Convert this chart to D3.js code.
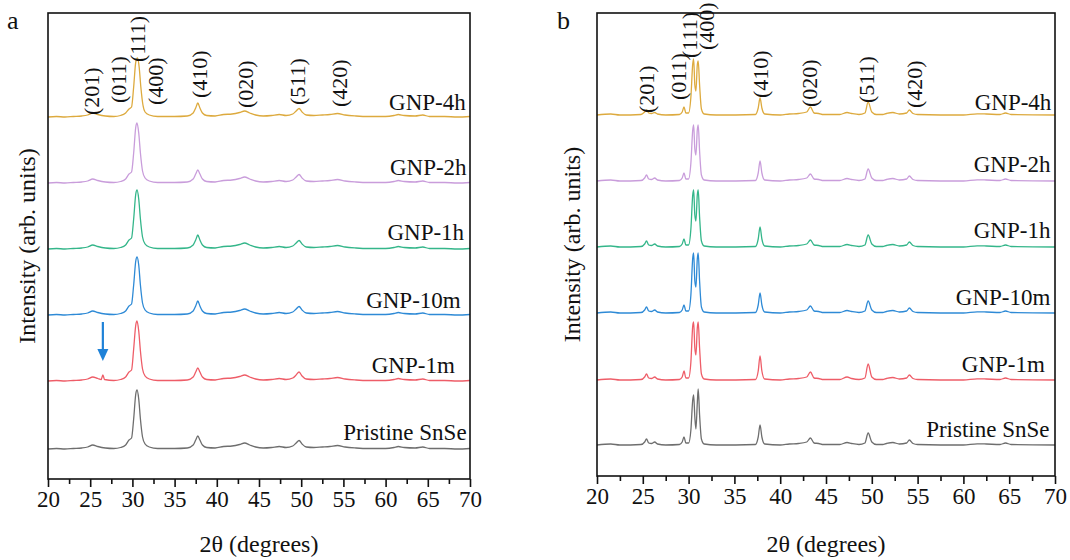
<!DOCTYPE html>
<html><head><meta charset="utf-8">
<script src="https://cdn.jsdelivr.net/npm/d3@7"></script>
<style>
html,body{margin:0;padding:0;background:#fff;}
svg text{font-family:"Liberation Serif","Times New Roman",serif;fill:#111;}
</style></head>
<body><svg id="chart" width="1070" height="560"></svg>
<script>
// ---------- DATA ----------
const xTicks = [20,25,30,35,40,45,50,55,60,65,70];
const seriesNames = ["Pristine SnSe","GNP-1m","GNP-10m","GNP-1h","GNP-2h","GNP-4h"];
const seriesColors = ["#6e6e6e","#ee5d68","#2e8ad6","#34b68a","#c99ddb","#ddaa3e"];
const millerNames = ["(201)","(011)","(111)","(400)","(410)","(020)","(511)","(420)"];

// vertical offsets (arb. units) of each pattern
const offsetsA = [30, 98, 164, 230, 296, 362];
const offsetsB = [31, 96, 163, 229, 295, 361];

// panel a patterns [2theta, intensity above own baseline]
const aPristine = [[20,0],[21,0.5],[22,0],[23,0.5],[24,1],[24.7,2],[25.3,4],[25.9,2.5],[26.8,1],[27.8,0.5],[28.6,1.5],[29.2,4],[29.6,9],[29.9,11],[30.15,30],[30.4,55],[30.55,59],[30.75,50],[30.95,30],[31.2,12],[31.5,5],[32,2],[33,0.5],[35,0.5],[36.5,1],[37.2,4],[37.5,9],[37.75,13],[38.0,9],[38.3,4],[38.8,1.5],[39.8,1],[40.8,2.5],[41.8,3],[42.7,4.5],[43.3,6],[43.9,4],[44.6,2],[45.5,1],[46.5,1.5],[47.4,2.5],[48.2,1.5],[49.0,3],[49.4,6],[49.75,8.5],[50.1,5],[50.6,2],[51.5,1.5],[52.5,2],[53.4,2.5],[54.3,3.5],[55.2,2],[56.5,1],[58,0.5],[60,0.5],[61,1.5],[61.5,2.5],[62.2,1.5],[63.5,1],[64.4,2],[65.2,0.5],[67,0.5],[68.5,0],[70,0.5]];
const a1m = [[20,0],[21,0.5],[22,0],[23,0.5],[24,1],[24.7,2],[25.3,4],[25.9,2.5],[26.3,1.5],[26.5,6],[26.7,1.5],[27.8,0.5],[28.6,1.5],[29.2,4],[29.6,9],[29.9,11],[30.15,32],[30.4,56],[30.55,60],[30.75,50],[30.95,30],[31.2,12],[31.5,5],[32,2],[33,0.5],[35,0.5],[36.5,1],[37.2,4],[37.5,9],[37.75,13],[38.0,9],[38.3,4],[38.8,1.5],[39.8,1],[40.8,2.5],[41.8,3],[42.7,4.5],[43.3,6],[43.9,4],[44.6,2],[45.5,1],[46.5,1.5],[47.4,2.5],[48.2,1.5],[49.0,3],[49.4,6],[49.75,9],[50.1,5],[50.6,2],[51.5,1.5],[52.5,2],[53.4,2.5],[54.3,3.5],[55.2,2],[56.5,1],[58,0.5],[60,0.5],[61,1.5],[61.5,2.5],[62.2,1.5],[63.5,1],[64.4,2],[65.2,0.5],[67,0.5],[68.5,0],[70,0.5]];
const a10m = [[20,0],[21,0.5],[22,0],[23,0.5],[24,1],[24.7,2],[25.3,4],[25.9,2.5],[26.8,1],[27.8,0.5],[28.6,1.5],[29.2,4],[29.6,9],[29.9,11],[30.15,30],[30.4,54],[30.55,58],[30.75,50],[30.95,30],[31.2,12],[31.5,5],[32,2],[33,0.5],[35,0.5],[36.5,1],[37.2,4],[37.5,9],[37.75,14],[38.0,9],[38.3,4],[38.8,1.5],[39.8,1],[40.8,2.5],[41.8,3],[42.7,4.5],[43.3,6],[43.9,4],[44.6,2],[45.5,1],[46.5,1.5],[47.4,2.5],[48.2,1.5],[49.0,3],[49.4,6],[49.75,8.5],[50.1,5],[50.6,2],[51.5,1.5],[52.5,2],[53.4,2.5],[54.3,3.5],[55.2,2],[56.5,1],[58,0.5],[60,0.5],[61,1.5],[61.5,2.5],[62.2,1.5],[63.5,1],[64.4,2],[65.2,0.5],[67,0.5],[68.5,0],[70,0.5]];
const a1h = [[20,0],[21,0.5],[22,0],[23,0.5],[24,1],[24.7,2],[25.3,4],[25.9,2.5],[26.8,1],[27.8,0.5],[28.6,1.5],[29.2,4],[29.6,9],[29.9,11],[30.15,30],[30.4,55],[30.55,59],[30.75,50],[30.95,30],[31.2,12],[31.5,5],[32,2],[33,0.5],[35,0.5],[36.5,1],[37.2,4],[37.5,9],[37.75,14],[38.0,9],[38.3,4],[38.8,1.5],[39.8,1],[40.8,2.5],[41.8,3],[42.7,4.5],[43.3,6],[43.9,4],[44.6,2],[45.5,1],[46.5,1.5],[47.4,2.5],[48.2,1.5],[49.0,3],[49.4,6],[49.75,8.5],[50.1,5],[50.6,2],[51.5,1.5],[52.5,2],[53.4,2.5],[54.3,3.5],[55.2,2],[56.5,1],[58,0.5],[60,0.5],[61,1.5],[61.5,2.5],[62.2,1.5],[63.5,1],[64.4,2],[65.2,0.5],[67,0.5],[68.5,0],[70,0.5]];
const a2h = [[20,0],[21,0.5],[22,0],[23,0.5],[24,1],[24.7,2],[25.3,4],[25.9,2.5],[26.8,1],[27.8,0.5],[28.6,1.5],[29.2,4],[29.6,9],[29.9,11],[30.15,30],[30.4,56],[30.55,60],[30.75,50],[30.95,30],[31.2,12],[31.5,5],[32,2],[33,0.5],[35,0.5],[36.5,1],[37.2,4],[37.5,9],[37.75,13],[38.0,9],[38.3,4],[38.8,1.5],[39.8,1],[40.8,2.5],[41.8,3],[42.7,4.5],[43.3,6],[43.9,4],[44.6,2],[45.5,1],[46.5,1.5],[47.4,2.5],[48.2,1.5],[49.0,3],[49.4,6],[49.75,8.5],[50.1,5],[50.6,2],[51.5,1.5],[52.5,2],[53.4,2.5],[54.3,3.5],[55.2,2],[56.5,1],[58,0.5],[60,0.5],[61,1.5],[61.5,2.5],[62.2,1.5],[63.5,1],[64.4,2],[65.2,0.5],[67,0.5],[68.5,0],[70,0.5]];
const a4h = [[20,0],[21,0.5],[22,0],[23,0.5],[24,1],[24.7,2],[25.3,4],[25.9,2.5],[26.8,1],[27.8,0.5],[28.6,1.5],[29.2,4],[29.6,8],[29.9,10],[30.15,30],[30.4,55],[30.6,59],[30.8,50],[31.0,30],[31.25,12],[31.5,5],[32,2],[33,0.5],[35,0.5],[36.5,1],[37.2,4],[37.5,9],[37.75,14],[38.0,9],[38.3,4],[38.8,1.5],[39.8,1],[40.8,2.5],[41.8,3],[42.7,4.5],[43.3,6],[43.9,4],[44.6,2],[45.5,1],[46.5,1.5],[47.4,2.5],[48.2,1.5],[49.0,3],[49.4,6],[49.75,8.5],[50.1,5],[50.6,2],[51.5,1.5],[52.5,2],[53.4,2.5],[54.3,3.5],[55.2,2],[56.5,1],[58,0.5],[60,0.5],[61,1.5],[61.5,2.5],[62.2,1.5],[63.5,1],[64.4,2],[65.2,0.5],[67,0.5],[68.5,0],[70,0.5]];

// panel b patterns
const bPristine = [[20,0],[21.5,1],[22.5,0],[24.8,0.5],[25.2,3],[25.4,6],[25.65,2],[25.95,1.5],[26.3,3],[26.6,1],[27.5,0],[29.0,0.5],[29.3,3],[29.5,8],[29.7,2],[30.0,2],[30.25,15],[30.45,45],[30.55,50],[30.68,28],[30.8,16],[30.95,42],[31.05,56],[31.2,30],[31.4,6],[31.7,1],[33,0],[37.3,0.5],[37.6,8],[37.8,20],[38.0,8],[38.3,1],[40,0],[41,1],[42,1.5],[42.9,3],[43.3,7],[43.7,2],[44.2,1.5],[44.6,0.5],[46.5,0.5],[47.3,2.5],[47.8,1.5],[48.6,0.5],[49.25,2],[49.6,12],[50.0,3],[50.5,0.5],[51.2,0.5],[51.6,1.5],[52.3,2.5],[53,1],[53.8,2],[54.1,5],[54.5,1.5],[55,0.5],[60,0],[61.5,1.2],[62.5,1],[64,0.5],[64.6,2],[65.2,0.5],[70,0]];
const b1m = [[20,0],[21.5,1],[22.5,0],[24.8,0.5],[25.2,3],[25.4,6],[25.65,2],[25.95,1.5],[26.3,3],[26.6,1],[27.5,0],[29.0,0.5],[29.3,3],[29.5,9],[29.7,2],[30.0,2],[30.25,18],[30.45,54],[30.55,58],[30.68,32],[30.8,25],[30.95,52],[31.05,58],[31.2,32],[31.4,6],[31.7,1],[33,0],[37.3,0.5],[37.6,9],[37.8,24],[38.0,9],[38.3,1],[40,0],[41,1],[42,1.5],[42.9,3],[43.3,8],[43.7,2],[44.2,1.5],[44.6,0.5],[46.5,0.5],[47.3,3],[47.8,1.5],[48.6,0.5],[49.25,2],[49.6,16],[50.0,3],[50.5,0.5],[51.2,0.5],[51.6,1.5],[52.3,2.5],[53,1],[53.8,2],[54.1,5],[54.5,1.5],[55,0.5],[60,0],[61.5,1.2],[62.5,1],[64,0.5],[64.6,2],[65.2,0.5],[70,0]];
const b10m = [[20,0],[21.5,1],[22.5,0],[24.8,0.5],[25.2,3],[25.4,6],[25.65,2],[25.95,1.5],[26.3,3],[26.6,1],[27.5,0],[29.0,0.5],[29.3,3],[29.5,8],[29.7,2],[30.0,2],[30.25,18],[30.45,55],[30.55,60],[30.68,32],[30.8,26],[30.95,54],[31.05,60],[31.2,32],[31.4,6],[31.7,1],[33,0],[37.3,0.5],[37.6,8],[37.8,20],[38.0,8],[38.3,1],[40,0],[41,1],[42,1.5],[42.9,3],[43.3,7],[43.7,2],[44.2,1.5],[44.6,0.5],[46.5,0.5],[47.3,2.5],[47.8,1.5],[48.6,0.5],[49.25,2],[49.6,12],[50.0,3],[50.5,0.5],[51.2,0.5],[51.6,1.5],[52.3,2.5],[53,1],[53.8,2],[54.1,5],[54.5,1.5],[55,0.5],[60,0],[61.5,1.2],[62.5,1],[64,0.5],[64.6,2],[65.2,0.5],[70,0]];
const b1h = [[20,0],[21.5,1],[22.5,0],[24.8,0.5],[25.2,3],[25.4,6],[25.65,2],[25.95,1.5],[26.3,3],[26.6,1],[27.5,0],[29.0,0.5],[29.3,3],[29.5,8],[29.7,2],[30.0,2],[30.25,18],[30.45,52],[30.55,57],[30.68,32],[30.8,26],[30.95,52],[31.05,57],[31.2,30],[31.4,6],[31.7,1],[33,0],[37.3,0.5],[37.6,8],[37.8,20],[38.0,8],[38.3,1],[40,0],[41,1],[42,1.5],[42.9,3],[43.3,7],[43.7,2],[44.2,1.5],[44.6,0.5],[46.5,0.5],[47.3,2.5],[47.8,1.5],[48.6,0.5],[49.25,2],[49.6,12],[50.0,3],[50.5,0.5],[51.2,0.5],[51.6,1.5],[52.3,2.5],[53,1],[53.8,2],[54.1,5],[54.5,1.5],[55,0.5],[60,0],[61.5,1.2],[62.5,1],[64,0.5],[64.6,2],[65.2,0.5],[70,0]];
const b2h = [[20,0],[21.5,1],[22.5,0],[24.8,0.5],[25.2,3],[25.4,6],[25.65,2],[25.95,1.5],[26.3,3],[26.6,1],[27.5,0],[29.0,0.5],[29.3,3],[29.5,8],[29.7,2],[30.0,2],[30.25,18],[30.45,51],[30.55,56],[30.68,32],[30.8,26],[30.95,51],[31.05,56],[31.2,30],[31.4,6],[31.7,1],[33,0],[37.3,0.5],[37.6,8],[37.8,20],[38.0,8],[38.3,1],[40,0],[41,1],[42,1.5],[42.9,3],[43.3,7],[43.7,2],[44.2,1.5],[44.6,0.5],[46.5,0.5],[47.3,2.5],[47.8,1.5],[48.6,0.5],[49.25,2],[49.6,12],[50.0,3],[50.5,0.5],[51.2,0.5],[51.6,1.5],[52.3,2.5],[53,1],[53.8,2],[54.1,5],[54.5,1.5],[55,0.5],[60,0],[61.5,1.2],[62.5,1],[64,0.5],[64.6,2],[65.2,0.5],[70,0]];
const b4h = [[20,0],[21.5,1],[22.5,0],[24.8,0.5],[25.2,3],[25.4,5],[25.65,2],[25.95,1.5],[26.3,2.5],[26.6,1],[27.5,0],[29.0,0.5],[29.3,3],[29.5,8],[29.7,2],[30.0,2],[30.25,18],[30.45,51],[30.55,56],[30.68,30],[30.8,24],[30.95,50],[31.05,54],[31.2,30],[31.4,6],[31.7,1],[33,0],[37.3,0.5],[37.6,7],[37.8,17],[38.0,7],[38.3,1],[40,0],[41,1],[42,1.5],[42.9,3],[43.3,8],[43.7,2],[44.2,1.5],[44.6,0.5],[46.5,0.5],[47.3,2.5],[47.8,1.5],[48.6,0.5],[49.25,2],[49.6,13],[50.0,3],[50.5,0.5],[51.2,0.5],[51.6,1.5],[52.3,2.5],[53,1],[53.8,2],[54.1,5],[54.5,1.5],[55,0.5],[60,0],[61.5,1.2],[62.5,1],[64,0.5],[64.6,2],[65.2,0.5],[70,0]];

// label anchors: [2theta of text end, intensity of text baseline]
const seriesLabelsA = [[69.6,39],[68.2,106],[68.9,171],[69.3,239],[69.6,304],[69.5,369]];
const seriesLabelsB = [[69.4,39],[68.9,104],[69.5,171],[69.5,238],[69.5,304],[69.6,366]];
// Miller labels: [2theta, intensity of label bottom]
const millerA = [[25.1,364],[28.3,376],[30.6,417],[32.7,374],[37.9,381],[43.4,371],[49.5,374],[54.5,372]];
const millerB = [[25.4,363],[28.85,376],[30.1,418],[31.9,426],[37.8,378],[43.2,369],[49.4,373],[54.6,368]];
// arrow in panel a: [2theta, top intensity, tip intensity]
const arrowA = [26.5, 157, 118];

// ---------- DRAW ----------
const svg = d3.select("#chart");

function panel(cfg){
  const g = svg.append("g");
  const x = d3.scaleLinear().domain([20,70]).range([cfg.left, cfg.right]);
  const y = d3.scaleLinear().domain([0, cfg.top0]).range([cfg.bottom, cfg.top]);
  const line = d3.line().x(d=>x(d[0])).y(d=>y(d[1])).curve(d3.curveMonotoneX);
  cfg.series.forEach((s,i)=>{
    g.append("path").attr("d", line(s.map(p=>[p[0], p[1]+cfg.offsets[i]])))
     .attr("fill","none").attr("stroke",seriesColors[i]).attr("stroke-width",1.3);
  });
  // frame
  g.append("rect").attr("x",cfg.left).attr("y",cfg.top).attr("width",cfg.right-cfg.left)
   .attr("height",cfg.bottom-cfg.top).attr("fill","none").attr("stroke","#111").attr("stroke-width",1.6);
  // x axis
  const ax = d3.axisBottom(x).tickValues(xTicks).tickSize(8).tickPadding(4).tickFormat(d3.format("d"));
  const axg = g.append("g").attr("transform",`translate(0,${cfg.bottom})`).call(ax);
  axg.select(".domain").remove();
  axg.selectAll("line").attr("stroke","#111").attr("stroke-width",1.6);
  axg.selectAll("text").attr("font-size",23).attr("font-family","Liberation Serif").attr("fill","#111");
  const minor = d3.axisBottom(x).tickValues(xTicks.slice(0,-1).map(v=>v+2.5)).tickSize(5).tickFormat("");
  const mg = g.append("g").attr("transform",`translate(0,${cfg.bottom})`).call(minor);
  mg.select(".domain").remove();
  mg.selectAll("line").attr("stroke","#111").attr("stroke-width",1.6);
  // titles
  g.append("text").attr("x",(cfg.left+cfg.right)/2).attr("y",552).attr("text-anchor","middle")
   .attr("font-size",24).text("2θ (degrees)");
  g.append("text").attr("transform",`translate(${cfg.ytx},${(cfg.top+cfg.bottom)/2}) rotate(-90)`)
   .attr("text-anchor","middle").attr("dy","0.35em").attr("font-size",24).text("Intensity (arb. units)");
  g.append("text").attr("x",cfg.letterX).attr("y",29).attr("font-size",26).text(cfg.letter);
  // series labels
  cfg.labels.forEach((l,i)=>{
    g.append("text").attr("x",x(l[0])).attr("y",y(l[1])).attr("text-anchor","end")
     .attr("font-size",23).text(seriesNames[i]);
  });
  // Miller labels
  cfg.miller.forEach((m,i)=>{
    g.append("text").attr("transform",`translate(${x(m[0])},${y(m[1])}) rotate(-90)`)
     .attr("dy","0.35em").attr("font-size",22).text(millerNames[i]);
  });
  return {x,y,g};
}

const pa = panel({left:48,right:470,top:13,bottom:479,top0:466,series:[aPristine,a1m,a10m,a1h,a2h,a4h],
  offsets:offsetsA,labels:seriesLabelsA,miller:millerA,ytx:27,letter:"a",letterX:7});
const pb = panel({left:597,right:1055,top:13,bottom:476,top0:463,series:[bPristine,b1m,b10m,b1h,b2h,b4h],
  offsets:offsetsB,labels:seriesLabelsB,miller:millerB,ytx:572,letter:"b",letterX:557});

// arrow
const ac = "#1f82d8";
const ax0 = pa.x(arrowA[0]), ay0 = pa.y(arrowA[1]), ay1 = pa.y(arrowA[2]);
pa.g.append("line").attr("x1",ax0).attr("x2",ax0).attr("y1",ay0).attr("y2",ay1-10)
  .attr("stroke",ac).attr("stroke-width",2.2);
pa.g.append("path").attr("d",`M${ax0-5.5},${ay1-12} L${ax0+5.5},${ay1-12} L${ax0},${ay1} Z`).attr("fill",ac);
</script></body></html>
